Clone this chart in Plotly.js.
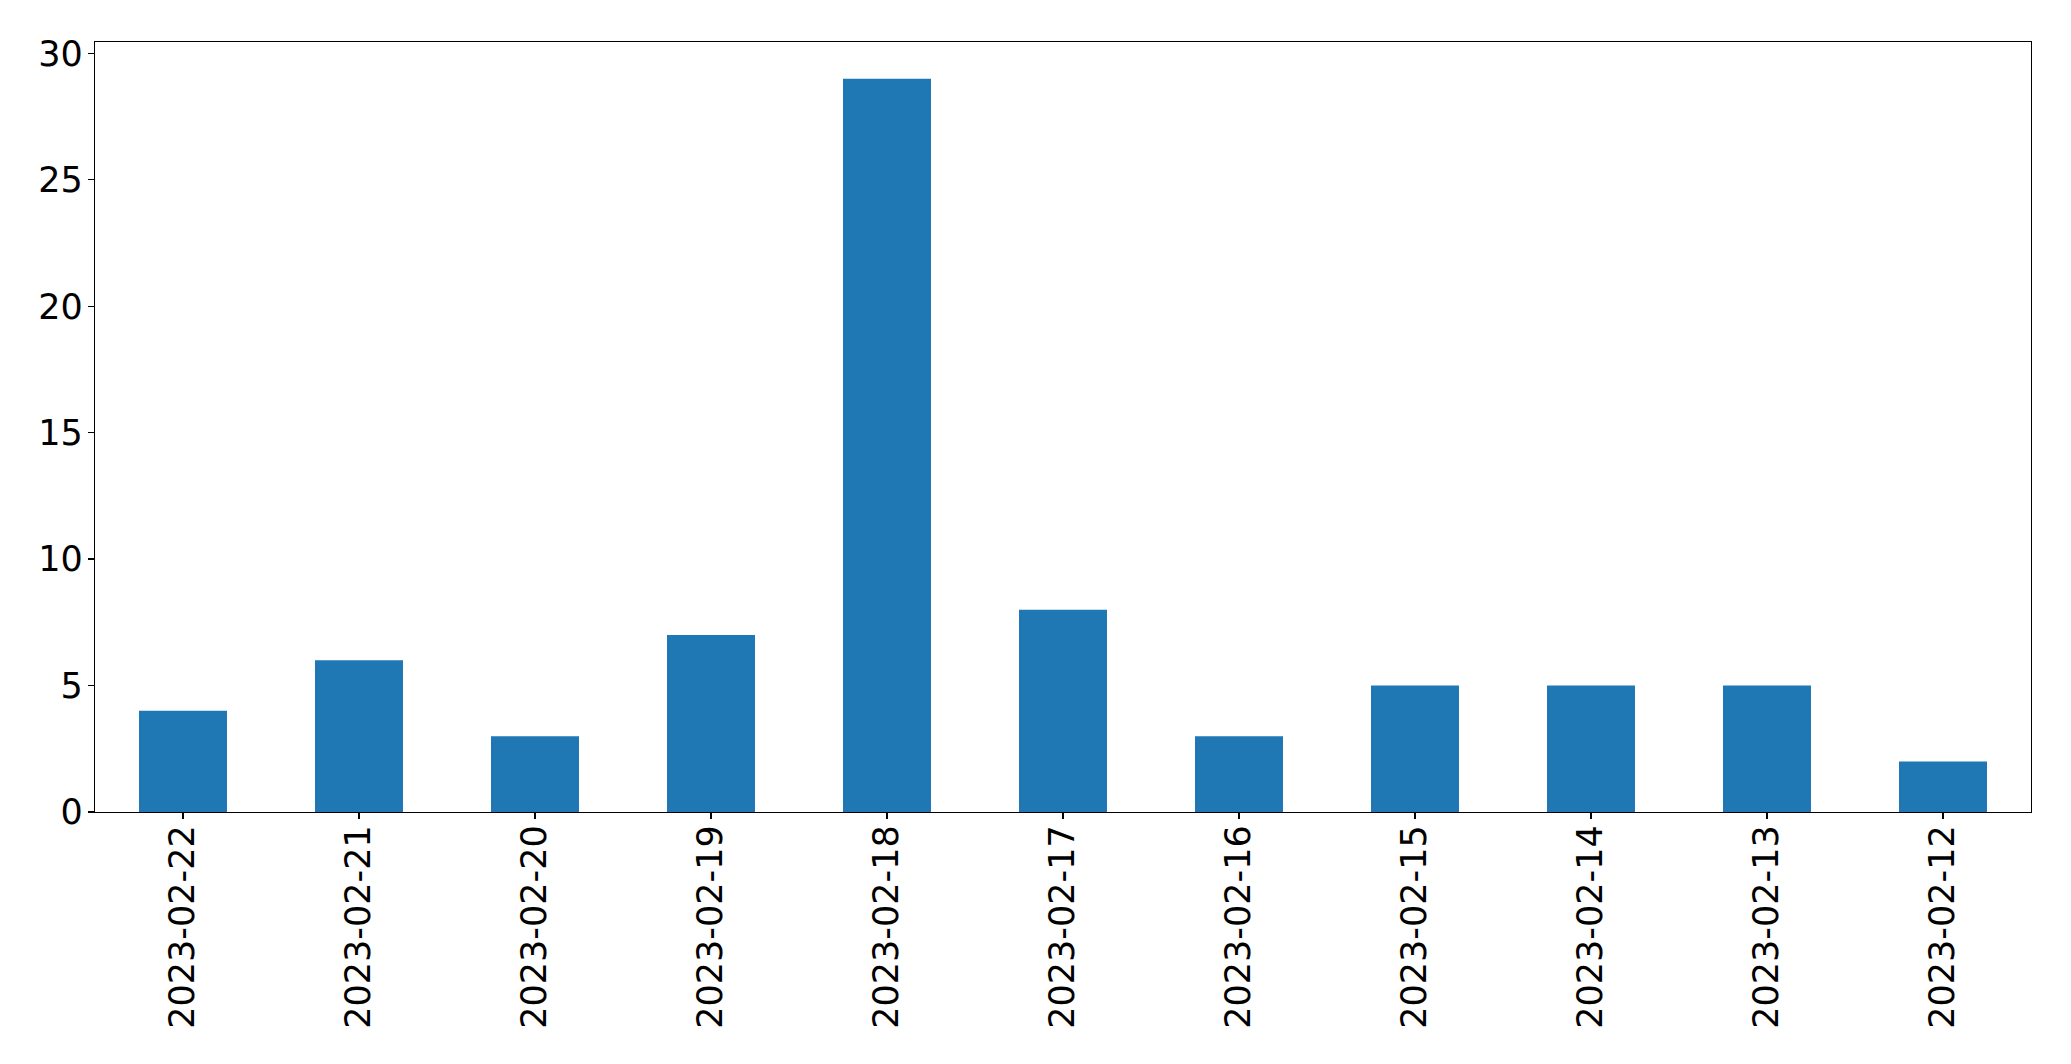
<!DOCTYPE html>
<html><head><meta charset="utf-8">
<script src="https://cdn.plot.ly/plotly-3.0.1.min.js"></script>
<style>html,body{margin:0;padding:0;background:#fff}#chart{width:2071px;height:1064px}</style>
</head><body><div id="chart"></div>
<script>
const categories = ["2023-02-22","2023-02-21","2023-02-20","2023-02-19","2023-02-18","2023-02-17","2023-02-16","2023-02-15","2023-02-14","2023-02-13","2023-02-12"];
const values = [4,6,3,7,29,8,3,5,5,5,2];
const yTicks = [0,5,10,15,20,25,30];

const font = {family: "DejaVu Sans", size: 35, color: "#000"};
Plotly.newPlot("chart", [{
  type: "bar", x: categories, y: values,
  marker: {color: "#1f77b4", line: {width: 0}},
  hoverinfo: "skip"
}], {
  width: 2071, height: 1064,
  margin: {l: 95, r: 40, t: 42, b: 252, pad: 0},
  paper_bgcolor: "#fff", plot_bgcolor: "#fff",
  bargap: 0.5,
  showlegend: false,
  font: font,
  xaxis: {
    type: "category", range: [-0.5, categories.length - 0.5],
    tickangle: -90, ticks: "outside", ticklen: 6, tickwidth: 1.3, tickcolor: "#000",
    showline: true, linecolor: "#000", linewidth: 1.3, mirror: true,
    showgrid: false, zeroline: false, tickfont: font, ticklabelstandoff: -8
  },
  yaxis: {
    range: [0, 30.45], tickvals: yTicks, ticktext: yTicks.map(String),
    ticks: "outside", ticklen: 6, tickwidth: 1.3, tickcolor: "#000",
    showline: true, linecolor: "#000", linewidth: 1.3, mirror: true,
    showgrid: false, zeroline: false, tickfont: font, ticklabelstandoff: -2
  }
}, {displayModeBar: false, staticPlot: true});
</script></body></html>
